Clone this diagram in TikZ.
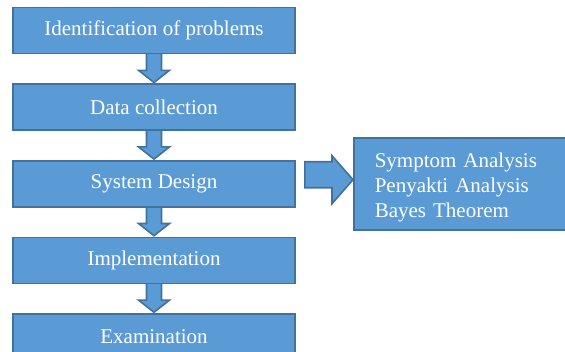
\documentclass[tikz,border=0pt]{standalone}
\usepackage{fontspec}
\setmainfont{Liberation Serif}
\usetikzlibrary{positioning, calc, backgrounds}

\definecolor{boxfill}{HTML}{5B9BD5}
\definecolor{boxline}{HTML}{41719C}

\tikzset{
  stage/.style={draw=boxline, fill=boxfill, line width=1.6pt,
    minimum width=282pt, minimum height=46pt, text=white,
    font=\fontsize{21}{25}\selectfont},
  fatarrow/.style={draw=boxline, fill=boxfill, line width=1.6pt,
    line join=miter}
}

\begin{document}
\begin{tikzpicture}[x=1pt, y=1pt]
\clip (0,0) rectangle (565,-351);
\node[stage] (ident) at (154,-30.5) {Identification of problems};
\node[stage, below=29pt of ident] (data) {Data collection};
\node[stage, below=29pt of data] (design) {System Design};
\node[stage, below=29pt of design] (impl) {Implementation};
\node[stage, below=29pt of impl] (exam) {Examination};
\node[stage, anchor=west, minimum width=0pt, minimum height=92pt,
    text width=200pt, inner xsep=21pt, align=left, text height=22.5pt]
    (detail) at (353,-184)
    {Symptom Analysis\\Penyakti Analysis\\Bayes Theorem};

% block arrows behind the boxes
\begin{pgfonlayer}{background}
\foreach \a/\b in {ident/data, data/design, design/impl, impl/exam}
  \draw[fatarrow] let \p1=(\a.south), \p2=(\b.north) in
    (\x1-7.5pt,\y1+4pt) -- (\x1+7.5pt,\y1+4pt) -- (\x1+7.5pt,\y2+13pt)
    -- (\x1+15.5pt,\y2+13pt) -- (\x1,\y2+0.8pt) -- (\x1-15.5pt,\y2+13pt)
    -- (\x1-7.5pt,\y2+13pt) -- cycle;
\end{pgfonlayer}
\draw[fatarrow] let \p1=(design.east), \p2=(detail.west) in
  (\x1+9pt,\y1+22pt) -- (\x2-21pt,\y1+22pt) -- (\x2-21pt,\y1+28pt)
  -- (\x2,\y1+4pt) -- (\x2-21pt,\y1-20pt) -- (\x2-21pt,\y1-4pt)
  -- (\x1+9pt,\y1-4pt) -- cycle;
\end{tikzpicture}
\end{document}
